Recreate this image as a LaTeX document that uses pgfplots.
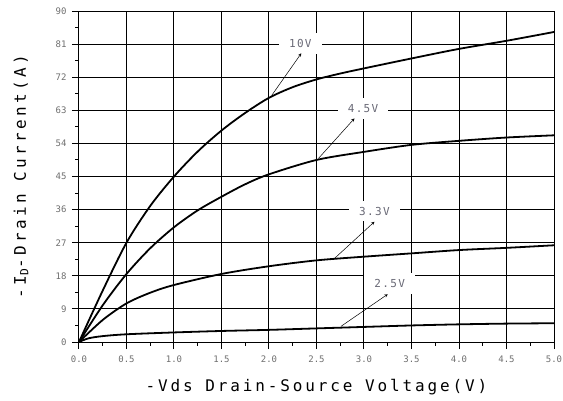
\documentclass[border=0pt]{standalone}
\usepackage{fontspec}
\usepackage{pgfplots}
\pgfplotsset{compat=1.18}
\setmainfont{DejaVu Sans Mono}
\newfontfamily\xlabfont[LetterSpace=18]{DejaVu Sans Mono}
\newfontfamily\ylabfont[LetterSpace=21]{DejaVu Sans Mono}
\newfontfamily\tagfont[LetterSpace=12]{DejaVu Sans Mono}
\definecolor{ticktext}{RGB}{110,110,110}
\definecolor{tagtext}{RGB}{105,105,118}

\begin{document}
\begin{tikzpicture}
\begin{axis}[
  name=ax,
  width=475pt, height=331pt, scale only axis,
  xmin=0, xmax=5, ymin=0, ymax=90,
  xtick={0,0.5,...,5}, ytick={0,9,...,90},
  minor x tick num=1, minor y tick num=1,
  xtick pos=left, ytick pos=left,
  tick align=outside,
  major tick length=7pt, minor tick length=3.5pt,
  every tick/.style={black, line width=1pt},
  grid=major,
  major grid style={black, line width=1pt},
  axis line style={black, line width=1pt},
  /pgf/number format/assume math mode=true,
  x tick label style={font=\fontsize{9}{10}\selectfont, text=ticktext, yshift=-3pt,
    /pgf/number format/.cd, fixed, fixed zerofill, precision=1},
  y tick label style={font=\fontsize{9}{10}\selectfont, text=ticktext, xshift=-2pt},
  xlabel={\xlabfont\fontsize{16}{18}\selectfont -Vds Drain-Source Voltage(V)},
  ylabel={\ylabfont\fontsize{16}{18}\selectfont -I$_{\mathrm{D}}$-Drain Current(A)},
  xlabel style={at={(axis description cs:0.5,-0.136)}, anchor=center},
  ylabel style={at={(axis description cs:-0.122,0.5)}, anchor=center},
  clip=false,
]
% Vgs = -10 V
\addplot[black, line width=1.8pt, smooth] coordinates {
  (0,0) (0.25,14) (0.5,27) (0.75,37) (1.0,45) (1.25,51.8) (1.5,57.5)
  (1.75,62.3) (2.0,66.4) (2.25,69.3) (2.5,71.4) (2.75,73.0) (3.0,74.4)
  (3.5,77.1) (4.0,79.7) (4.5,81.9) (5.0,84.3)};
% Vgs = -4.5 V
\addplot[black, line width=1.8pt, smooth] coordinates {
  (0,0) (0.25,10) (0.5,18.5) (0.75,25.5) (1.0,31.2) (1.25,35.8) (1.5,39.5)
  (1.75,42.9) (2.0,45.6) (2.5,49.5) (3.0,51.7) (3.5,53.6) (4.0,54.7)
  (4.5,55.6) (5.0,56.2)};
% Vgs = -3.3 V
\addplot[black, line width=1.8pt, smooth] coordinates {
  (0,0) (0.25,6) (0.5,10.5) (0.75,13.4) (1.0,15.5) (1.5,18.5)
  (2.0,20.6) (2.5,22.2) (3.0,23.2) (3.5,24.1) (4.0,25) (4.5,25.6) (5.0,26.3)};
% Vgs = -2.5 V
\addplot[black, line width=1.8pt, smooth] coordinates {
  (0,0) (0.1,1) (0.25,1.6) (0.5,2.1) (1.0,2.6) (1.5,3.0) (2.0,3.3)
  (2.5,3.7) (3.0,4.1) (3.5,4.5) (4.0,4.8) (4.5,5.0) (5.0,5.1)};

% curve tags with pointers
\tikzset{tag/.style={fill=white, inner xsep=10pt, inner ysep=6pt, text=tagtext,
  font=\tagfont\fontsize{11}{12}\selectfont}}
\node[tag] at (axis cs:2.33,81.2) {10V};
\node[tag] at (axis cs:2.99,63.5) {4.5V};
\node[tag] at (axis cs:3.11,35.6) {3.3V};
\node[tag] at (axis cs:3.27,15.9) {2.5V};
\draw[-stealth, line width=0.5pt] (axis cs:2.03,67.1) -- (axis cs:2.34,78.5);
\draw[-stealth, line width=0.5pt] (axis cs:2.52,49.9) -- (axis cs:2.90,60.8);
\draw[-stealth, line width=0.5pt] (axis cs:2.68,22.5) -- (axis cs:3.11,32.7);
\draw[-stealth, line width=0.5pt] (axis cs:2.76,4.3) -- (axis cs:3.25,13.0);
\end{axis}
% page frame around the plot
\pgfresetboundingbox
\path (ax.south west) ++(-79pt,-58pt) rectangle ++(563pt,400pt);
\end{tikzpicture}
\end{document}
